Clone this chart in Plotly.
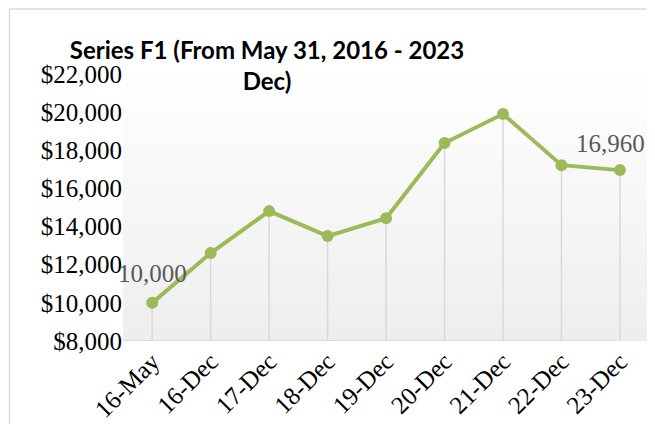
import plotly.graph_objects as go

categories = ["16-May", "16-Dec", "17-Dec", "18-Dec", "19-Dec", "20-Dec", "21-Dec", "22-Dec", "23-Dec"]
values = [10000, 12610, 14810, 13500, 14440, 18380, 19900, 17220, 16960]
labels = ["10,000", "", "", "", "", "", "", "", "16,960"]
y_ticks = [8000, 10000, 12000, 14000, 16000, 18000, 20000, 22000]
y_base = 8000

W, H = 647, 416
L, R, T, B = 115, 7, 66, 83
pw, ph = W - L - R, H - T - B

xs = list(range(len(categories)))

fig = go.Figure()
fig.add_trace(go.Scatter(
    x=xs, y=values,
    mode="lines+markers",
    line=dict(color="#9BBB59", width=4),
    marker=dict(color="#9BBB59", size=12),
    error_y=dict(type="data", symmetric=False,
                 array=[0] * len(values),
                 arrayminus=[v - y_base for v in values],
                 color="#d9d9d9", thickness=1.5, width=0),
    cliponaxis=False, showlegend=False,
))

# data labels
last = len(categories) - 1
for i, (v, t) in enumerate(zip(values, labels)):
    if not t:
        continue
    fig.add_annotation(
        x=xs[i], y=v, text=t, showarrow=False,
        xanchor="right" if i == last else "center",
        xshift=27 if i == last else 0,
        yanchor="middle", yshift=29 if i == 0 else 27,
        font=dict(family="Liberation Serif", size=25, color="#595959"),
    )

shapes = []
n = 24
for i in range(n):
    c = int(255 - (255 - 238) * (i + 0.5) / n)
    shapes.append(dict(type="rect", xref="paper", yref="paper", layer="below",
                       x0=0, x1=1, y0=1 - (i + 1) / n, y1=1 - i / n,
                       fillcolor=f"rgb({c},{c},{c})", line=dict(width=0)))
# bottom axis line
shapes.append(dict(type="line", xref="x", yref="y", x0=-0.5, x1=last,
                   y0=y_base, y1=y_base, line=dict(color="#d9d9d9", width=1.5)))
# chart border
bx = (1.5 - L) / pw
by = 1 + (T - 1) / ph
shapes.append(dict(type="line", xref="paper", yref="paper", x0=bx, x1=bx, y0=by, y1=-2,
                   line=dict(color="#d9d9d9", width=1.5)))
shapes.append(dict(type="line", xref="paper", yref="paper", x0=bx, x1=3, y0=by, y1=by,
                   line=dict(color="#d9d9d9", width=1.5)))

fig.update_layout(
    width=W, height=H,
    margin=dict(l=L, r=R, t=T, b=B, autoexpand=False),
    paper_bgcolor="white", plot_bgcolor="rgba(0,0,0,0)",
    title=dict(text="<b>Series F1 (From May 31, 2016 - 2023<br>Dec)</b>",
               x=259 / W, xanchor="center", xref="container",
               y=1 - 51 / H, yanchor="top", yref="container",
               font=dict(family="Lato", size=24, color="black")),
    shapes=shapes,
    xaxis=dict(range=[-0.5, last + 0.48], tickmode="array",
               tickvals=xs, ticktext=categories,
               tickangle=-45, showgrid=False, zeroline=False, showline=False,
               automargin=False, ticks="",
               tickfont=dict(family="Liberation Serif", size=25, color="black")),
    yaxis=dict(range=[8000, 22000], tickvals=y_ticks,
               ticktext=[f"${v:,}" for v in y_ticks],
               showgrid=False, zeroline=False, showline=False, ticks="",
               automargin=False,
               tickfont=dict(family="Liberation Serif", size=25, color="black")),
)

fig.write_html("out.html")
